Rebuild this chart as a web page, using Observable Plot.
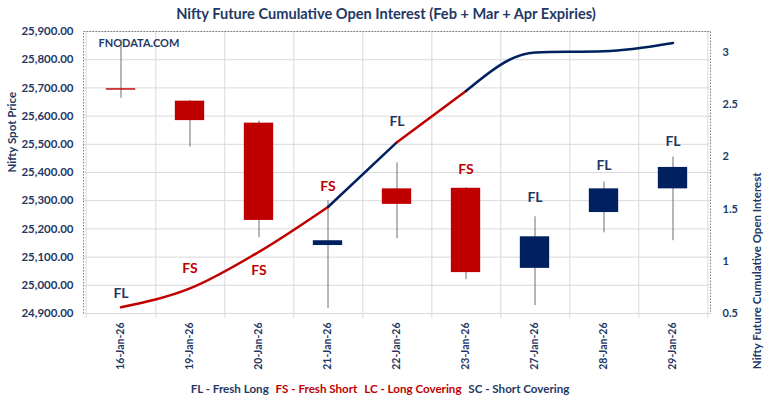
<!DOCTYPE html>
<html>
<head>
<meta charset="utf-8">
<script src="https://cdn.jsdelivr.net/npm/d3@7"></script>
<script src="https://cdn.jsdelivr.net/npm/@observablehq/plot@0.6"></script>
<style>
  html, body { margin: 0; padding: 0; background: #fff; }
  #wrap { position: relative; width: 768px; height: 404px; overflow: hidden; font-family: Lato, "Open Sans", sans-serif; }
  #title { position: absolute; top: 5px; left: 0; width: 772px; text-align: center; font-weight: 700; font-size: 14.6px; color: #1F3864; }
  #legend { position: absolute; top: 382px; left: 0; width: 760px; text-align: center; font-weight: 700; font-size: 11.6px; }
  #legend span { margin: 0 2px; }
  #chart { position: absolute; top: 0; left: 0; }
</style>
</head>
<body>
<div id="wrap">
  <div id="chart"></div>
  <div id="title">Nifty Future Cumulative Open Interest (Feb + Mar + Apr Expiries)</div>
  <div id="legend">
    <span style="color:#1F3864">FL - Fresh Long</span>
    <span style="color:#C00000">FS - Fresh Short</span>
    <span style="color:#C00000">LC - Long Covering</span>
    <span style="color:#1F3864">SC - Short Covering</span>
  </div>
</div>
<script>
// ---- data ----
const dates = ["16-Jan-26","19-Jan-26","20-Jan-26","21-Jan-26","22-Jan-26","23-Jan-26","27-Jan-26","28-Jan-26","29-Jan-26"];
const openPx  = [25697, 25653, 25575, 25141, 25342, 25344, 25060, 25258, 25342];
const highPx  = [25870, 25655, 25582, 25300, 25434, 25346, 25243, 25366, 25455];
const lowPx   = [25663, 25490, 25169, 24918, 25165, 25020, 24928, 25186, 25158];
const closePx = [25692, 25584, 25230, 25158, 25287, 25045, 25172, 25342, 25418];
const cumOI   = [0.56, 0.74, 1.09, 1.52, 2.14, 2.63, 3.00, 3.01, 3.09];
const signal  = ["FL","FS","FS","FS","FL","FS","FL","FL","FL"];
const signalAt = [24971, 25060, 25052, 25352, 25582, 25409, 25310, 25423, 25511];
const priceTicks = [24900, 25000, 25100, 25200, 25300, 25400, 25500, 25600, 25700, 25800, 25900];
const oiTicks = [0.5, 1, 1.5, 2, 2.5, 3];
const priceDomain = [24900, 25900];
const oiDomain = [0.5, 3.2];

// ---- styling ----
const NAVY = "#1F3864", BLUE = "#002060", RED = "#C00000", GRID = "#D9D9D9";
const W = 768, H = 404, ML = 83, MR = 58, MT = 31, MB = 91;
const bw = (W - ML - MR) / dates.length;

const rows = dates.map((d, i) => ({
  date: d, open: openPx[i], high: highPx[i], low: lowPx[i], close: closePx[i],
  oi: cumOI[i], sig: signal[i], sigAt: signalAt[i],
  next: signal[Math.min(i + 1, signal.length - 1)]
}));

// secondary axis mapping (OI -> price units)
const oiToPrice = d3.scaleLinear().domain(oiDomain).range(priceDomain);
const sigColor = s => (s === "FL" || s === "SC") ? BLUE : RED;
const sigText = s => (s === "FL" || s === "SC") ? NAVY : RED;

const chart = Plot.plot({
  width: W, height: H,
  marginLeft: ML, marginRight: MR, marginTop: MT, marginBottom: MB,
  style: { fontFamily: "Lato, 'Open Sans', sans-serif", background: "transparent" },
  x: { type: "band", domain: dates, padding: 0 },
  y: { domain: priceDomain },
  marks: [
    // grid
    Plot.ruleY(priceTicks, { stroke: GRID, strokeWidth: 1 }),
    Plot.ruleX(dates, { x: d => d, dx: bw / 2, stroke: GRID, insetBottom: -5 }),
    Plot.ruleX([dates[0]], { x: d => d, dx: -bw / 2, stroke: GRID, insetBottom: -5 }),
    Plot.frame({ stroke: "#7F7F7F", strokeDasharray: "1.5,1.5" }),
    Plot.ruleY([priceDomain[0]], { stroke: GRID, strokeWidth: 1 }),
    // axes
    Plot.axisY(priceTicks, { anchor: "left", tickSize: 0, tickPadding: 10, tickFormat: d3.format(",.2f"),
      fill: NAVY, fontWeight: "bold", fontSize: 11.5, label: null }),
    Plot.axisY(oiTicks.map(oiToPrice), { anchor: "right", tickSize: 0, tickPadding: 12,
      tickFormat: v => String(Math.round(oiToPrice.invert(v) * 10) / 10),
      fill: NAVY, fontWeight: "bold", fontSize: 11, label: null }),
    Plot.axisX({ tickRotate: -90, tickSize: 0, tickPadding: 9, fill: NAVY, fontWeight: "bold",
      fontSize: 10.5, label: null }),
    Plot.text(["Nifty Spot Price"], { frameAnchor: "left", rotate: -90, dx: -71, fill: NAVY,
      fontWeight: "bold", fontSize: 11.5 }),
    Plot.text(["Nifty Future Cumulative Open Interest"], { frameAnchor: "right", rotate: -90, dx: 47, fill: NAVY,
      fontWeight: "bold", fontSize: 11.5 }),
    Plot.text(["FNODATA.COM"], { frameAnchor: "top-left", textAnchor: "start", dx: 15, dy: 8, fill: NAVY,
      fontWeight: "bold", fontSize: 11 }),
    // candles
    Plot.ruleX(rows, { x: "date", y1: "low", y2: "high", stroke: "#6F6F6F", strokeWidth: 1 }),
    Plot.barY(rows, { x: "date", y1: "open", y2: "close", insetLeft: (bw - 30) / 2, insetRight: (bw - 30) / 2,
      fill: d => d.close >= d.open ? BLUE : RED }),
    // cumulative OI line on secondary scale
    Plot.line(rows, { x: "date", y: d => oiToPrice(d.oi), z: null, stroke: d => sigColor(d.next),
      strokeWidth: 2.5, curve: "monotone-x" }),
    // signal labels
    Plot.text(rows, { x: "date", y: "sigAt", text: "sig", fill: d => sigText(d.sig),
      fontWeight: "bold", fontSize: 14 })
  ]
});
document.getElementById("chart").appendChild(chart);
</script>
</body>
</html>
